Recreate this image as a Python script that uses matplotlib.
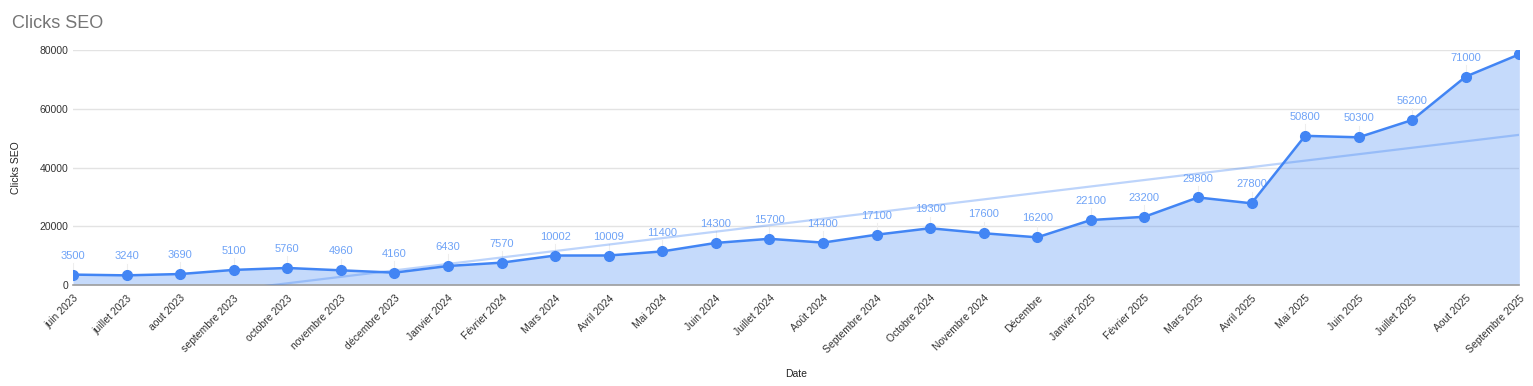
import numpy as np
import matplotlib
matplotlib.use('Agg')
import matplotlib.pyplot as plt

plt.rcParams['font.family'] = ['Liberation Sans', 'DejaVu Sans']

# Monthly SEO clicks, June 2023 -> September 2025
months = ['juin 2023', 'juillet 2023', 'aout 2023', 'septembre 2023', 'octobre 2023',
          'novembre 2023', 'décembre 2023', 'Janvier 2024', 'Février 2024', 'Mars 2024',
          'Avril 2024', 'Mai 2024', 'Juin 2024', 'Juillet 2024', 'Août 2024',
          'Septembre 2024', 'Octobre 2024', 'Novembre 2024', 'Décembre', 'Janvier 2025',
          'Février 2025', 'Mars 2025', 'Avril 2025', 'Mai 2025', 'Juin 2025',
          'Juillet 2025', 'Aout 2025', 'Septembre 2025']
clicks = [3500, 3240, 3690, 5100, 5760, 4960, 4160, 6430, 7570, 10002,
          10009, 11400, 14300, 15700, 14400, 17100, 19300, 17600, 16200, 22100,
          23200, 29800, 27800, 50800, 50300, 56200, 71000, 78600]
# last point has no visible label in the chart
show_label = [True] * (len(clicks) - 1) + [False]

blue = '#4285F4'
x = np.arange(len(months))

fig = plt.figure(figsize=(15.33, 3.86), dpi=100)
ax = fig.add_axes([0.0476, 0.262, 0.9435, 0.608])

ax.fill_between(x, clicks, 0, color=blue, alpha=0.3, linewidth=0)
ax.plot(x, clicks, color=blue, linewidth=1.8, marker='o', markersize=7, zorder=4)

# linear trendline (least squares)
slope, intercept = np.polyfit(x, clicks, 1)
trend = slope * x + intercept
ax.plot(x, trend, color=blue, alpha=0.35, linewidth=1.6, zorder=3)

for xi, v, show in zip(x, clicks, show_label):
    if not show:
        continue
    ax.plot([xi, xi], [v + 1200, v + 4000], color='#eeeeee', linewidth=0.8, zorder=2)
    ax.annotate(str(v), (xi, v), xytext=(0, 10), textcoords='offset points',
                ha='center', va='bottom', fontsize=8, color='#6fa3f7')

ax.set_xlim(0, len(months) - 1)
ax.set_ylim(0, 80000)
ax.set_yticks([0, 20000, 40000, 60000, 80000])
ax.grid(axis='y', color='#e3e3e3', linewidth=1)
ax.set_axisbelow(True)
for side in ['left', 'right', 'top']:
    ax.spines[side].set_visible(False)
ax.spines['bottom'].set_color('#9e9e9e')
ax.spines['bottom'].set_linewidth(1.2)
ax.tick_params(axis='both', length=0, labelsize=7.5, colors='#333333')
ax.set_xticks(x)
ax.set_xticklabels(months, rotation=45, ha='right', rotation_mode='anchor', fontsize=7.5)
ax.tick_params(axis='x', pad=6)

ax.set_xlabel('Date', fontsize=7.5, color='#222222')
ax.xaxis.set_label_coords(0.5, -0.36)
ax.set_ylabel('Clicks SEO', fontsize=7.5, color='#222222')
ax.yaxis.set_label_coords(-0.036, 0.5)
fig.text(0.008, 0.94, 'Clicks SEO', fontsize=13, color='#757575', ha='left', va='center')

fig.savefig('out.png', dpi=100)
